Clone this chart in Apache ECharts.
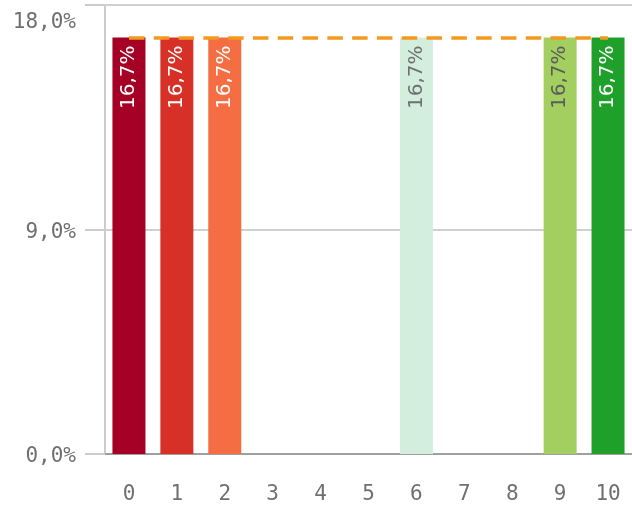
<!DOCTYPE html>
<html>
<head>
<meta charset="utf-8">
<script src="https://cdn.jsdelivr.net/npm/echarts@6/dist/echarts.min.js"></script>
<style>
html,body{margin:0;padding:0;background:#fff;}
#chart{width:632px;height:507px;}
</style>
</head>
<body>
<div id="chart"></div>
<script>
// Data
var categories = ['0','1','2','3','4','5','6','7','8','9','10'];
var shares = [16.7, 16.7, 16.7, 0, 0, 0, 16.7, 0, 0, 16.7, 16.7];
var targetValue = 16.7;
var yTicks = [0, 9, 18];

// Styles
var barColors = ['#a50026','#d73027','#f46d43','#fdae61','#fee08b','#ffffbf','#d3eedc','#d9ef8b','#66bd63','#a3cf61','#1fa02a'];
var labelColors = ['#ffffff','#ffffff','#ffffff','#666','#666','#666','#707070','#666','#666','#5c5c5c','#ffffff'];

function pct(v){ return v.toFixed(1).replace('.', ',') + '%'; }

var chart = echarts.init(document.getElementById('chart'), null, {renderer:'canvas'});
var mono = 'DejaVu Sans Mono';
var axisTextColor = '#707070';

chart.setOption({
  animation: false,
  grid: {left: 105, right: -2, top: 5, bottom: 53, containLabel: false},
  xAxis: {
    type: 'category',
    data: categories,
    axisLine: {show: true, lineStyle: {color: '#a0a0a0', width: 2}},
    axisTick: {show: false},
    axisLabel: {color: axisTextColor, fontFamily: mono, fontSize: 21, margin: 30}
  },
  yAxis: {
    type: 'value',
    min: yTicks[0], max: yTicks[yTicks.length-1], interval: yTicks[1]-yTicks[0],
    axisLine: {show: true, lineStyle: {color: '#cccccc', width: 2}},
    axisTick: {show: true, length: 20, lineStyle: {color: '#cccccc', width: 2}},
    splitLine: {show: true, lineStyle: {color: '#d0d0d0', width: 2}},
    axisLabel: {
      color: axisTextColor, fontFamily: mono, fontSize: 21, margin: 29,
      formatter: function(v){ return v === yTicks[yTicks.length-1] ? '{top|' + pct(v) + '}' : '{n|' + pct(v) + '}'; },
      rich: {
        top: {fontFamily: mono, fontSize: 21, color: axisTextColor, padding: [36,0,0,0]},
        n: {fontFamily: mono, fontSize: 21, color: axisTextColor, padding: [6,0,0,0]}
      }
    }
  },
  series: [{
    type: 'bar',
    barWidth: 33,
    data: shares.map(function(v, i){
      return {
        value: v,
        itemStyle: {color: barColors[i]},
        label: {color: labelColors[i]}
      };
    }),
    label: {
      show: true,
      position: 'insideTop',
      rotate: 90,
      align: 'right',
      verticalAlign: 'middle',
      distance: 8,
      fontFamily: 'DejaVu Sans',
      fontSize: 20,
      formatter: function(p){ return p.value ? pct(p.value) : ''; }
    },
    markLine: {
      silent: true,
      symbol: ['none','none'],
      z: 10,
      label: {show: false},
      lineStyle: {color: '#f39a1e', width: 3.5, type: [15.5, 9.3]},
      data: [[{coord: [categories[0], targetValue]}, {coord: [categories[categories.length-1], targetValue]}]]
    }
  }]
});
</script>
</body>
</html>
